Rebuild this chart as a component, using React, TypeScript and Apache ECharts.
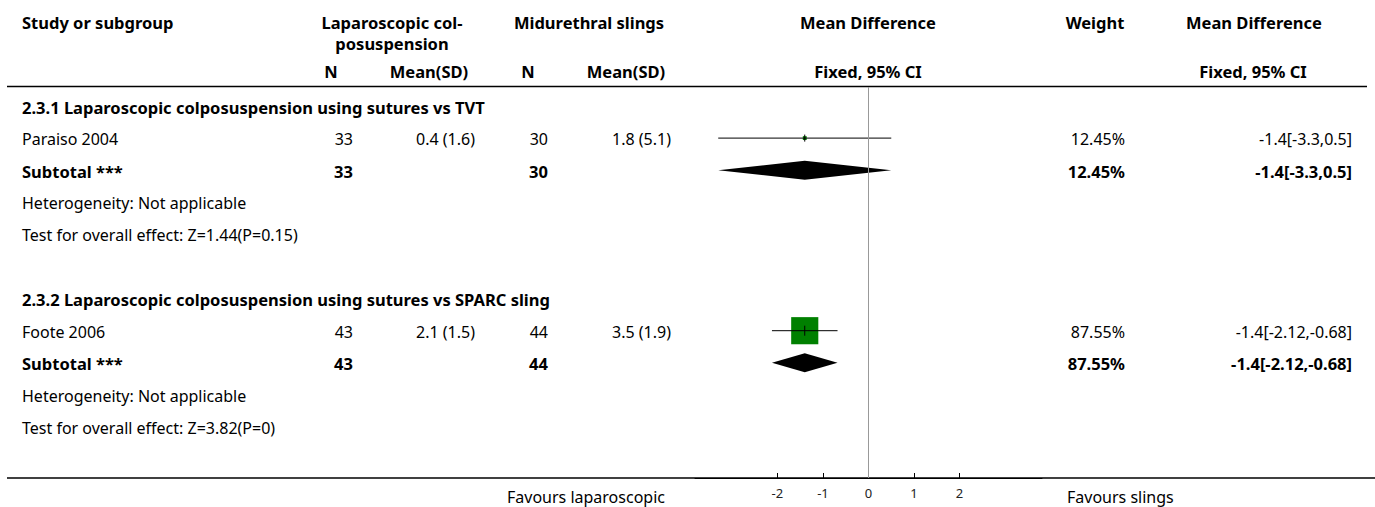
import React, { useEffect, useRef } from "react";
import * as echarts from "echarts";

// ---- data ----
const subgroupTitles = [
  "2.3.1 Laparoscopic colposuspension using sutures vs TVT",
  "2.3.2 Laparoscopic colposuspension using sutures vs SPARC sling",
];
const studyNames = ["Paraiso 2004", "Foote 2006"];
const studyGroup = [0, 1];
const expN = [33, 43];
const expMeanSD = ["0.4 (1.6)", "2.1 (1.5)"];
const ctlN = [30, 44];
const ctlMeanSD = ["1.8 (5.1)", "3.5 (1.9)"];
const studyMD = [-1.4, -1.4];
const studyLow = [-3.3, -2.12];
const studyHigh = [0.5, -0.68];
const studyWeight = [12.45, 87.55];

const subN1 = [33, 43];
const subN2 = [30, 44];
const subMD = [-1.4, -1.4];
const subLow = [-3.3, -2.12];
const subHigh = [0.5, -0.68];
const subWeight = [12.45, 87.55];
const heterogeneity = ["Heterogeneity: Not applicable", "Heterogeneity: Not applicable"];
const overallEffect = [
  "Test for overall effect: Z=1.44(P=0.15)",
  "Test for overall effect: Z=3.82(P=0)",
];
const tickValues = [-2, -1, 0, 1, 2];
const favoursLeft = "Favours laparoscopic";
const favoursRight = "Favours slings";

// ---- build table rows ----
type Row = { kind: string; g?: number; i?: number; text?: string };
const rows: Row[] = [];
subgroupTitles.forEach((t, g) => {
  rows.push({ kind: "title", g, text: t });
  studyNames.forEach((_, i) => {
    if (studyGroup[i] === g) rows.push({ kind: "study", g, i });
  });
  rows.push({ kind: "subtotal", g });
  rows.push({ kind: "note", g, text: heterogeneity[g] });
  rows.push({ kind: "note", g, text: overallEffect[g] });
  if (g < subgroupTitles.length - 1) rows.push({ kind: "blank" });
});

const rowOf = (kind: string, g: number, i?: number) =>
  rows.findIndex((r) => r.kind === kind && r.g === g && (i === undefined || r.i === i));

const studyData = studyNames.map((_, i) => [
  studyMD[i], studyLow[i], studyHigh[i], rowOf("study", studyGroup[i], i), studyWeight[i],
]);
const subData = subgroupTitles.map((_, g) => [subMD[g], subLow[g], subHigh[g], rowOf("subtotal", g)]);

const FONT = "'Noto Sans', sans-serif";
const FS = 16;
const FSB = 16.5;

const fmtCI = (m: number, l: number, h: number) => `${m}[${l},${h}]`;

export default function App() {
  const ref = useRef<HTMLDivElement>(null);
  useEffect(() => {
    document.body.style.margin = "0";
    const chart = echarts.init(ref.current!, null, { renderer: "svg" });

    const txt = (x: number, y: number, text: string, align: string, bold: boolean) => ({
      type: "text",
      x,
      y,
      style: {
        text,
        fill: "#000",
        font: `${bold ? "bold " : ""}${bold ? FSB : FS}px ${FONT}`,
        align,
        verticalAlign: "middle",
      },
    });

    const header = [
      txt(22, 22, "Study or subgroup", "left", true),
      txt(392, 22, "Laparoscopic col-", "center", true),
      txt(392, 43, "posuspension", "center", true),
      txt(589, 22, "Midurethral slings", "center", true),
      txt(868, 22, "Mean Difference", "center", true),
      txt(1095, 22, "Weight", "center", true),
      txt(1254, 22, "Mean Difference", "center", true),
      txt(331, 71, "N", "center", true),
      txt(429, 71, "Mean(SD)", "center", true),
      txt(528, 71, "N", "center", true),
      txt(626, 71, "Mean(SD)", "center", true),
      txt(868, 71, "Fixed, 95% CI", "center", true),
      txt(1253, 71, "Fixed, 95% CI", "center", true),
      txt(507, 497, favoursLeft, "left", false),
      txt(1067, 497, favoursRight, "left", false),
      {
        type: "line",
        shape: { x1: 7, y1: 86.5, x2: 1367, y2: 86.5 },
        style: { stroke: "#000", lineWidth: 1.5 },
      },
      {
        type: "line",
        shape: { x1: 7, y1: 478, x2: 1375, y2: 478 },
        style: { stroke: "#000", lineWidth: 1.5 },
      },
    ];

    const option: any = {
      animation: false,
      backgroundColor: "#fff",
      grid: { left: 695, right: 333, top: 87, bottom: 29 },
      xAxis: {
        type: "value",
        position: "bottom",
        min: -3.81,
        max: 3.81,
        splitLine: { show: false },
        axisLine: { show: true, onZero: false, lineStyle: { color: "#000", width: 1 } },
        axisTick: {
          show: true,
          inside: true,
          length: 5,
          customValues: tickValues,
          lineStyle: { color: "#000" },
        },
        axisLabel: {
          show: true,
          customValues: tickValues,
          margin: 8,
          fontSize: 13,
          fontFamily: FONT,
          color: "#222",
        },
      },
      yAxis: {
        type: "value",
        min: -0.592,
        max: 11.589,
        inverse: true,
        show: false,
      },
      graphic: header,
      series: [
        {
          type: "custom",
          name: "zero",
          data: [[0, -0.592]],
          renderItem: () => ({ type: "group", children: [] }),
          markLine: {
            silent: true,
            symbol: "none",
            label: { show: false },
            lineStyle: { color: "#999", width: 1, type: "solid" },
            data: [{ xAxis: 0 }],
          },
        },
        {
          type: "custom",
          name: "studies",
          data: studyData,
          encode: { x: [0, 1, 2], y: 3 },
          renderItem: (params: any, api: any) => {
            const m = api.coord([api.value(0), api.value(3)]);
            const l = api.coord([api.value(1), api.value(3)]);
            const h = api.coord([api.value(2), api.value(3)]);
            const side = Math.max(3, api.value(4) * 0.31);
            const tick = Math.max(7, side * 0.37);
            return {
              type: "group",
              children: [
                {
                  type: "rect",
                  shape: { x: m[0] - side / 2, y: m[1] - side / 2, width: side, height: side },
                  style: { fill: "#008000" },
                },
                {
                  type: "line",
                  shape: { x1: l[0], y1: l[1], x2: h[0], y2: h[1] },
                  style: { stroke: "#000", lineWidth: 1 },
                },
                {
                  type: "line",
                  shape: { x1: m[0], y1: m[1] - tick / 2, x2: m[0], y2: m[1] + tick / 2 },
                  style: { stroke: "#000", lineWidth: 1 },
                },
              ],
            };
          },
        },
        {
          type: "custom",
          name: "subtotals",
          data: subData,
          encode: { x: [0, 1, 2], y: 3 },
          renderItem: (params: any, api: any) => {
            const m = api.coord([api.value(0), api.value(3)]);
            const l = api.coord([api.value(1), api.value(3)]);
            const h = api.coord([api.value(2), api.value(3)]);
            const hh = 9.5;
            return {
              type: "polygon",
              shape: {
                points: [
                  [l[0], l[1]],
                  [m[0], m[1] - hh],
                  [h[0], h[1]],
                  [m[0], m[1] + hh],
                ],
              },
              style: { fill: "#000" },
            };
          },
        },
        {
          type: "custom",
          name: "table",
          clip: false,
          data: rows.map((_, r) => [0, r]),
          encode: { x: 0, y: 1 },
          renderItem: (params: any, api: any) => {
            const r = rows[params.dataIndex];
            const y = api.coord([0, api.value(1)])[1] + 1;
            const ch: any[] = [];
            if (r.kind === "title") ch.push(txt(22, y, r.text!, "left", true));
            if (r.kind === "note") ch.push(txt(22, y, r.text!, "left", false));
            if (r.kind === "study") {
              const i = r.i!;
              ch.push(txt(22, y, studyNames[i], "left", false));
              ch.push(txt(353, y, String(expN[i]), "right", false));
              ch.push(txt(475, y, expMeanSD[i], "right", false));
              ch.push(txt(548, y, String(ctlN[i]), "right", false));
              ch.push(txt(671, y, ctlMeanSD[i], "right", false));
              ch.push(txt(1125, y, `${studyWeight[i]}%`, "right", false));
              ch.push(txt(1352, y, fmtCI(studyMD[i], studyLow[i], studyHigh[i]), "right", false));
            }
            if (r.kind === "subtotal") {
              const g = r.g!;
              ch.push(txt(22, y, "Subtotal ***", "left", true));
              ch.push(txt(353, y, String(subN1[g]), "right", true));
              ch.push(txt(548, y, String(subN2[g]), "right", true));
              ch.push(txt(1125, y, `${subWeight[g]}%`, "right", true));
              ch.push(txt(1352, y, fmtCI(subMD[g], subLow[g], subHigh[g]), "right", true));
            }
            return { type: "group", children: ch };
          },
        },
      ],
    };
    chart.setOption(option);
    return () => chart.dispose();
  }, []);
  return <div ref={ref} style={{ width: 1375, height: 507 }} />;
}
